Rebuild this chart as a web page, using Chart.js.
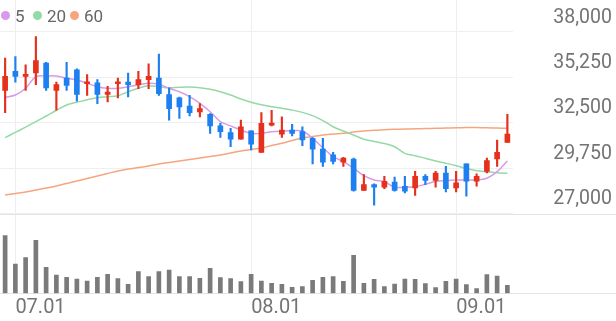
<!DOCTYPE html>
<html>
<head>
<meta charset="utf-8">
<script src="https://cdn.jsdelivr.net/npm/chart.js@4.4.0/dist/chart.umd.min.js"></script>
<style>
  body { margin: 0; background: #fff; }
  #wrap { position: relative; width: 616px; height: 321px; }
  #legend { position: absolute; left: 0; top: 0; font-family: Roboto, sans-serif; font-size: 17px; color: #666; }
  #legend .dot { position: absolute; width: 9px; height: 9px; border-radius: 50%; top: 11px; }
  #legend .txt { position: absolute; top: 5.5px; line-height: 20px; }
</style>
</head>
<body>
<div id="wrap">
  <canvas id="chart" width="616" height="321"></canvas>
  <div id="legend">
    <span class="dot" style="left:0.5px;background:#d79be9"></span><span class="txt" style="left:15px">5</span>
    <span class="dot" style="left:32.5px;background:#95d9a6"></span><span class="txt" style="left:47px">20</span>
    <span class="dot" style="left:69.5px;background:#f5a67f"></span><span class="txt" style="left:84px">60</span>
  </div>
</div>
<script>
// trading days, 2025-06-30 .. 2025-09-08
const labels = ['06.30',
  '07.01','07.02','07.03','07.04','07.07','07.08','07.09','07.10','07.11','07.14','07.15','07.16',
  '07.17','07.18','07.21','07.22','07.23','07.24','07.25','07.28','07.29','07.30','07.31',
  '08.01','08.04','08.05','08.06','08.07','08.08','08.11','08.12','08.13','08.14','08.18','08.19',
  '08.20','08.21','08.22','08.25','08.26','08.27','08.28','08.29',
  '09.01','09.02','09.03','09.04','09.05','09.08'];

const openPrices = [34450,35600,35300,35500,36100,34450,35200,35700,34850,34900,
  34200,34850,34950,34800,35100,35200,34200,34000,33500,33150,
  33000,32300,31900,31500,32000,30700,32350,31800,32050,31950,
  31550,30900,30550,30100,30300,28400,28750,28600,28900,28650,
  28550,29250,29000,29450,28550,30000,28950,29550,30300,31300];
const highPrices = [36400,36500,36000,37700,36150,34950,36150,35750,35400,35100,
  34700,35200,35500,35600,36050,36650,34600,34050,34150,33650,
  33050,32450,32150,32650,32000,33100,33250,32850,32400,32250,
  31600,31550,30700,30400,30350,29350,28800,29250,29200,29250,
  29550,29350,29550,29850,29550,30000,29400,30350,31450,33000];
const lowPrices = [33100,34950,34450,34800,34450,33250,34450,33800,34150,33650,
  33750,34000,34050,34550,34550,34150,32650,32750,32900,32850,
  31850,31600,31050,31500,30850,30700,32300,31600,31700,31100,
  30000,29850,30000,29850,28350,28400,27500,28500,28350,28250,
  28100,28750,28600,28300,28300,28050,28650,29450,29850,31300];
const closePrices = [35300,35300,35400,36250,34600,34800,34750,34200,34950,34200,
  34350,34950,34800,35100,35300,34250,33350,33450,33100,33350,
  32300,31950,31500,32250,31200,32450,32450,32050,31850,31450,
  30900,30100,30150,30350,28400,28750,28600,28950,28400,28350,
  29250,29000,29450,28500,28850,28950,29250,30200,30700,31800];

const ma5 = [34030,34170,34580,35280,35320,35320,35180,35080,34880,34670,
  34580,34580,34670,34780,34880,34820,34580,34370,34070,33670,
  33160,32560,32300,32050,31850,31850,31950,31990,32010,31990,
  31550,30980,30440,30140,29740,29290,29030,28930,28590,28590,
  28620,28770,28930,28990,29030,29030,29030,29130,29530,30180];
const ma20 = [31590,31910,32230,32560,32900,33250,33570,33730,33890,34010,
  34070,34130,34370,34580,34730,34670,34610,34640,34650,34610,
  34520,34370,34170,33930,33730,33580,33460,33370,33260,33120,
  32920,32620,32250,31990,31750,31490,31360,31240,31040,30640,
  30500,30340,30180,30040,29890,29720,29590,29530,29470,29430];
const ma60 = [28120,28210,28300,28420,28540,28670,28820,28970,29120,29270,
  29420,29570,29690,29780,29880,30000,30090,30180,30270,30360,
  30450,30540,30660,30780,30870,30960,31120,31250,31420,31570,
  31660,31750,31810,31850,31930,31990,32040,32070,32100,32110,
  32130,32140,32160,32170,32190,32200,32200,32190,32170,32160];

const volumes = [576000,293000,356000,530000,260000,183000,160000,143000,123000,160000,
  190000,146000,90000,216000,166000,216000,233000,166000,166000,150000,
  250000,156000,146000,116000,190000,123000,100000,90000,60000,66000,
  130000,160000,166000,120000,380000,100000,140000,66000,93000,143000,
  140000,96000,56000,120000,143000,86000,46000,186000,173000,80000];

const priceTicks = [27000, 29750, 32500, 35250, 38000];
const monthStarts = ['07.01', '08.01', '09.01'];

const UP = '#e5301c';
const DOWN = '#1e7ff0';
const candleColors = closePrices.map((c, i) => c >= openPrices[i] ? UP : DOWN);

Chart.defaults.font.family = 'Roboto';

// full-width separator lines under the price pane and the volume pane
const separators = {
  id: 'separators',
  beforeDatasetsDraw(chart) {
    const ctx = chart.ctx;
    const ys = [chart.scales.y.bottom, chart.scales.x.top];
    ctx.save();
    ctx.strokeStyle = '#e4e4e4';
    ctx.lineWidth = 1;
    ys.forEach(y => {
      const py = Math.round(y) + 0.5;
      ctx.beginPath();
      ctx.moveTo(0, py);
      ctx.lineTo(chart.width, py);
      ctx.stroke();
    });
    ctx.restore();
  }
};

new Chart(document.getElementById('chart'), {
  type: 'bar',
  data: {
    labels: labels,
    datasets: [
      {
        label: 'body',
        data: openPrices.map((o, i) => [o, closePrices[i]]),
        backgroundColor: candleColors,
        barThickness: 5,
        minBarLength: 2,
        grouped: false,
        yAxisID: 'y',
        order: 0
      },
      {
        label: 'wick',
        data: lowPrices.map((l, i) => [l, highPrices[i]]),
        backgroundColor: candleColors,
        barThickness: 1.5,
        grouped: false,
        yAxisID: 'y',
        order: 1
      },
      {
        type: 'line', label: '5', data: ma5,
        borderColor: '#d79be9', borderWidth: 1.5, pointRadius: 0, tension: 0.35,
        yAxisID: 'y', order: 2
      },
      {
        type: 'line', label: '20', data: ma20,
        borderColor: '#95d9a6', borderWidth: 1.5, pointRadius: 0, tension: 0.35,
        yAxisID: 'y', order: 3
      },
      {
        type: 'line', label: '60', data: ma60,
        borderColor: '#f5a67f', borderWidth: 1.5, pointRadius: 0, tension: 0.35,
        yAxisID: 'y', order: 4
      },
      {
        label: 'volume',
        data: volumes,
        backgroundColor: '#7a7a7a',
        barThickness: 4,
        grouped: false,
        yAxisID: 'yVol',
        order: 0
      }
    ]
  },
  options: {
    responsive: false,
    animation: false,
    devicePixelRatio: 1,
    layout: { padding: { left: 0, right: 4, top: 0, bottom: 0 } },
    plugins: {
      legend: { display: false },
      tooltip: { enabled: false }
    },
    scales: {
      x: {
        offset: true,
        grid: {
          offset: false,
          drawTicks: false,
          color: ctx => monthStarts.includes(labels[ctx.index]) ? '#eeeeee' : 'rgba(0,0,0,0)'
        },
        border: { display: false },
        ticks: {
          autoSkip: false,
          maxRotation: 0,
          align: 'start',
          padding: 3,
          color: '#747474',
          font: { size: 20 },
          callback: (v, i) => monthStarts.includes(labels[i]) ? labels[i] : ''
        },
        afterFit: s => { s.height = 27.7; s.paddingLeft = 0; s.paddingRight = 0; }
      },
      y: {
        position: 'right',
        stack: 'panes',
        stackWeight: 213.5,
        min: 27000,
        max: 39920,
        afterBuildTicks: s => { s.ticks = priceTicks.map(v => ({ value: v })); },
        grid: { color: '#efefef', drawTicks: false },
        border: { display: false },
        ticks: { crossAlign: 'far', labelOffset: -14, color: '#747474', font: { size: 19.5 } },
        afterFit: s => { s.width = 99.5; s.paddingTop = 0; s.paddingBottom = 0; }
      },
      yVol: {
        position: 'right',
        stack: 'panes',
        stackWeight: 79.8,
        min: 0,
        max: 798000,
        grid: { display: false },
        border: { display: false },
        ticks: { display: false },
        afterFit: s => { s.width = 0; s.paddingTop = 0; s.paddingBottom = 0; }
      }
    }
  },
  plugins: [separators]
});
</script>
</body>
</html>
